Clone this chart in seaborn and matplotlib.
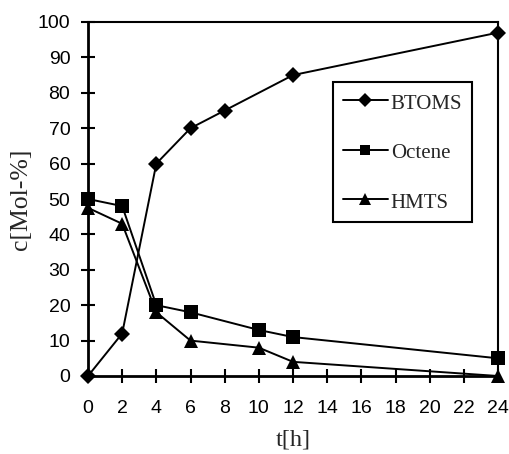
import matplotlib
matplotlib.use("Agg")
import matplotlib.pyplot as plt
import seaborn as sns
import pandas as pd

t_btoms = [0, 2, 4, 6, 8, 12, 24]
c_btoms = [0, 12, 60, 70, 75, 85, 97]
t_octene = [0, 2, 4, 6, 10, 12, 24]
c_octene = [50, 48, 20, 18, 13, 11, 5]
t_hmts = [0, 2, 4, 6, 10, 12, 24]
c_hmts = [47.5, 43, 18, 10, 8, 4, 0]
series = ["BTOMS", "Octene", "HMTS"]
x_ticks = list(range(0, 25, 2))
y_ticks = list(range(0, 101, 10))

df = pd.concat([
    pd.DataFrame({"t": t_btoms, "c": c_btoms, "s": "BTOMS"}),
    pd.DataFrame({"t": t_octene, "c": c_octene, "s": "Octene"}),
    pd.DataFrame({"t": t_hmts, "c": c_hmts, "s": "HMTS"}),
])

sns.set_style("white")
fig = plt.figure(figsize=(5.09, 4.54), dpi=100)
ax = fig.add_axes([88/509, 1-376/454, 410/509, 354/454])

sns.lineplot(data=df, x="t", y="c", hue="s", style="s", hue_order=series, style_order=series,
             markers={"BTOMS": "D", "Octene": "s", "HMTS": "^"}, dashes=False,
             palette=["black"]*3, markersize=9, linewidth=1.4, markeredgewidth=0,
             ax=ax, clip_on=False, legend=True)
plot_sizes = {"D": 8.5, "s": 10.5, "^": 9.5}
for ln in ax.lines:
    ln.set_clip_on(False)
    m = ln.get_marker()
    if m in plot_sizes:
        ln.set_markersize(plot_sizes[m])

ax.set_xlim(0, 24)
ax.set_ylim(0, 100)
ax.set_xticks(x_ticks)
ax.set_yticks(y_ticks)
ax.tick_params(axis="both", direction="inout", length=10.5, width=1.5, color="black",
               labelsize=14, labelcolor="black", left=True, bottom=True)
ax.tick_params(axis="y", pad=7.5)
ax.tick_params(axis="x", pad=12)
for lab in ax.get_xticklabels() + ax.get_yticklabels():
    lab.set_family("Liberation Sans")
for side in ["left", "bottom", "top", "right"]:
    ax.spines[side].set_visible(True)
    ax.spines[side].set_color("black")
ax.spines["left"].set_linewidth(2)
ax.spines["bottom"].set_linewidth(2)
ax.spines["top"].set_linewidth(1.5)
ax.spines["right"].set_linewidth(1.5)

ax.set_xlabel("t[h]", family="Liberation Serif", fontsize=17.5, labelpad=9)
ax.set_ylabel("c[Mol-%]", family="Liberation Serif", fontsize=18.5, labelpad=4)

leg = ax.legend(loc="upper left", bbox_to_anchor=(0.598, 0.83), borderaxespad=0,
                frameon=True, fancybox=False,
                edgecolor="black", framealpha=1, handlelength=2.16, handletextpad=0.15,
                labelspacing=1.32, borderpad=0.45, handleheight=1.1,
                prop={"family": "Liberation Serif", "size": 15})
leg.get_frame().set_linewidth(1.5)
leg_sizes = {"D": 7, "s": 7, "^": 8}
for h in leg.legend_handles:
    m = h.get_marker()
    if m in leg_sizes:
        h.set_markersize(leg_sizes[m])

fig.savefig("out.png", dpi=100)
